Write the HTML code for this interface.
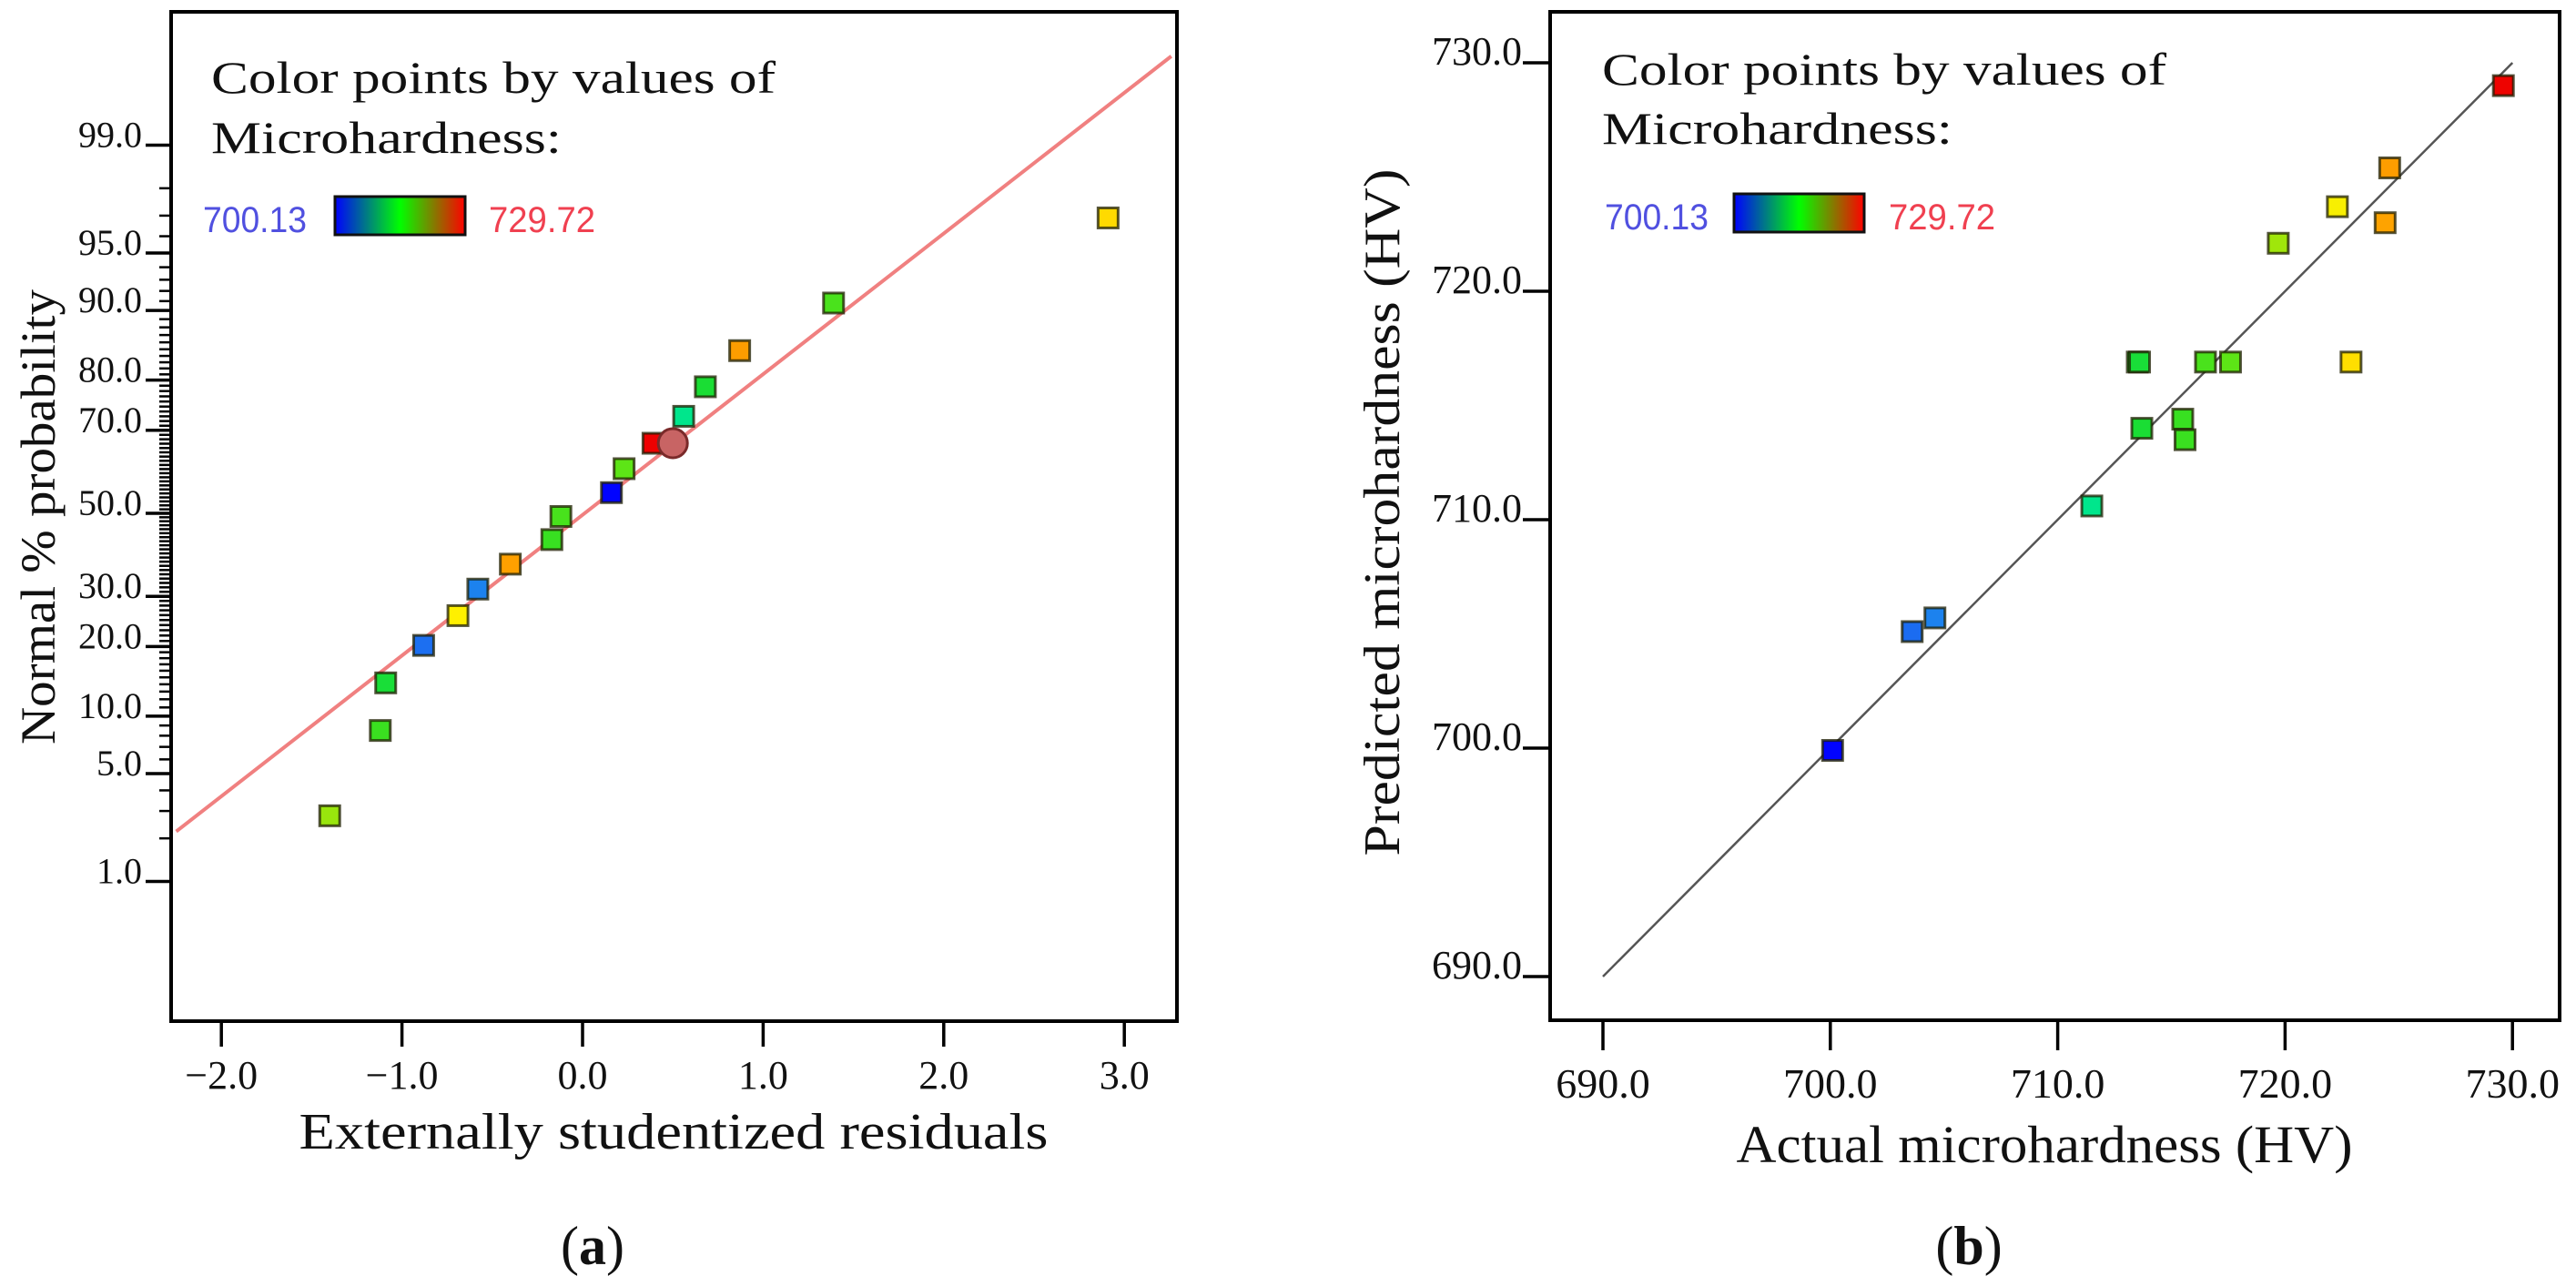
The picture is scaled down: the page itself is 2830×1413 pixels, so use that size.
<!DOCTYPE html>
<html><head><meta charset="utf-8"><style>
html,body{margin:0;padding:0;background:#fff;}
svg{display:block;}
text{font-family:"Liberation Serif",serif;fill:#111;}
.sans{font-family:"Liberation Sans",sans-serif;}
</style></head><body>
<svg id="chart" width="2830" height="1413" viewBox="0 0 2830 1413" xmlns="http://www.w3.org/2000/svg">
<defs>
<linearGradient id="cbar" x1="0" x2="1" y1="0" y2="0">
<stop offset="0" stop-color="#0000ff"/><stop offset="0.5" stop-color="#00ff00"/><stop offset="1" stop-color="#ff0000"/>
</linearGradient>
</defs>
<g id="left">
  <rect x="188" y="13" width="1105" height="1109" fill="none" stroke="#000" stroke-width="4"/>
  <g id="lyt"></g>
  <g id="lxt"></g>
  <g id="lline"></g>
  <g id="lpts"></g>
  <g>
    <text x="232" y="102" font-size="50" textLength="620" lengthAdjust="spacingAndGlyphs">Color points by values of</text>
    <text x="232" y="168" font-size="50" textLength="385" lengthAdjust="spacingAndGlyphs">Microhardness:</text>
    <text class="sans" x="223" y="255" font-size="40" fill="#5050e0" style="fill:#5050e0" textLength="114" lengthAdjust="spacingAndGlyphs">700.13</text>
    <rect x="368" y="216" width="143" height="42" fill="url(#cbar)" stroke="#111" stroke-width="3"/>
    <text class="sans" x="537" y="255" font-size="40" style="fill:#f04050" textLength="117" lengthAdjust="spacingAndGlyphs">729.72</text>
  </g>
  <text x="740" y="1262" font-size="56" text-anchor="middle" textLength="823" lengthAdjust="spacingAndGlyphs">Externally studentized residuals</text>
  <text transform="translate(60,568) rotate(-90)" font-size="54" text-anchor="middle" textLength="500" lengthAdjust="spacingAndGlyphs">Normal % probability</text>
  <text x="651" y="1389" font-size="60" text-anchor="middle">(<tspan font-weight="bold">a</tspan>)</text>
</g>
<g id="right">
  <rect x="1703" y="13" width="1109" height="1108" fill="none" stroke="#000" stroke-width="4"/>
  <g id="ryt"></g>
  <g id="rxt"></g>
  <g id="rline"></g>
  <g id="rpts"></g>
  <g>
    <text x="1760" y="93" font-size="50" textLength="620" lengthAdjust="spacingAndGlyphs">Color points by values of</text>
    <text x="1760" y="158" font-size="50" textLength="385" lengthAdjust="spacingAndGlyphs">Microhardness:</text>
    <text class="sans" x="1763" y="252" font-size="40" style="fill:#5050e0" textLength="114" lengthAdjust="spacingAndGlyphs">700.13</text>
    <rect x="1905" y="213" width="143" height="42" fill="url(#cbar)" stroke="#111" stroke-width="3"/>
    <text class="sans" x="2075" y="252" font-size="40" style="fill:#f04050" textLength="117" lengthAdjust="spacingAndGlyphs">729.72</text>
  </g>
  <text x="2246" y="1277" font-size="58" text-anchor="middle" textLength="677" lengthAdjust="spacingAndGlyphs">Actual microhardness (HV)</text>
  <text transform="translate(1537,563) rotate(-90)" font-size="56" text-anchor="middle" textLength="755" lengthAdjust="spacingAndGlyphs">Predicted microhardness (HV)</text>
  <text x="2163" y="1389" font-size="60" text-anchor="middle">(<tspan font-weight="bold">b</tspan>)</text>
</g>
</svg>
<script>
// ---- Left chart data ----
const leftResiduals = [-1.40,-1.12,-1.09,-0.88,-0.69,-0.58,-0.40,-0.17,-0.12,0.16,0.23,0.39,0.56,0.68,0.87,1.39,2.91];
const leftProbability = [2.8,8.5,14.2,20.2,25.9,31.6,37.4,43.4,49.2,55.2,61.1,67.1,73.0,78.8,84.8,90.8,96.9];
const leftHardness = [719.5,715.6,713.6,703.7,722.5,704.6,724.5,715.5,716.4,700.1,717.6,729.7,711.5,713.7,724.6,716.5,723.0];
const leftXTicks = [-2,-1,0,1,2,3];
const leftXTickLabels = ["\u22122.0","\u22121.0","0.0","1.0","2.0","3.0"];
const leftYTicks = [1,5,10,20,30,50,70,80,90,95,99];
const leftYTickLabels = ["1.0","5.0","10.0","20.0","30.0","50.0","70.0","80.0","90.0","95.0","99.0"];
const highlightResidual = [0.50];
const highlightProbability = [67.1];
const fitLineResidual = [-2.25,3.26];
// ---- Right chart data ----
const rightActual = [700.1,703.6,704.6,711.5,713.5,713.6,713.7,715.5,715.6,716.5,717.6,719.7,722.3,722.9,724.4,724.6,729.6];
const rightPredicted = [699.9,705.1,705.7,710.6,716.9,716.9,714.0,714.4,713.5,716.9,716.9,722.1,723.7,716.9,723.0,725.4,729.0];
const rightXTicks = [690,700,710,720,730];
const rightXTickLabels = ["690.0","700.0","710.0","720.0","730.0"];
const rightYTicks = [690,700,710,720,730];
const rightYTickLabels = ["690.0","700.0","710.0","720.0","730.0"];
const diagRange = [690,730];

const NS="http://www.w3.org/2000/svg";
function mk(tag,attrs,parent){const e=document.createElementNS(NS,tag);for(const k in attrs)e.setAttribute(k,attrs[k]);parent.appendChild(e);return e;}
// inverse normal CDF (Acklam)
function probit(p){
 const a=[-39.6968302866538,220.946098424521,-275.928510446969,138.357751867269,-30.6647980661472,2.50662827745924];
 const b=[-54.4760987982241,161.585836858041,-155.698979859887,66.8013118877197,-13.2806815528857];
 const c=[-0.00778489400243029,-0.322396458041136,-2.40075827716184,-2.54973253934373,4.37466414146497,2.93816398269878];
 const d=[0.00778469570904146,0.32246712907004,2.445134137143,3.75440866190742];
 const pl=0.02425;let q,r;
 if(p<pl){q=Math.sqrt(-2*Math.log(p));return (((((c[0]*q+c[1])*q+c[2])*q+c[3])*q+c[4])*q+c[5])/((((d[0]*q+d[1])*q+d[2])*q+d[3])*q+1);}
 if(p>1-pl){q=Math.sqrt(-2*Math.log(1-p));return -(((((c[0]*q+c[1])*q+c[2])*q+c[3])*q+c[4])*q+c[5])/((((d[0]*q+d[1])*q+d[2])*q+d[3])*q+1);}
 q=p-0.5;r=q*q;return (((((a[0]*r+a[1])*r+a[2])*r+a[3])*r+a[4])*r+a[5])*q/(((((b[0]*r+b[1])*r+b[2])*r+b[3])*r+b[4])*r+1);
}
function lx(v){return 640+v*198.4;}
function lyz(z){return 564-z*173.9;}
function ly(p){return lyz(probit(p/100));}
function rx(v){return 1761+(v-690)*24.98;}
function ry(v){return 1073-(v-690)*25.1;}
const cstops=[[700,[0,0,255]],[704,[30,120,240]],[707,[20,170,230]],[711.5,[0,230,140]],[714,[30,220,40]],[718,[100,230,20]],[720,[170,230,10]],[722.5,[255,240,0]],[724,[255,175,0]],[729.7,[238,0,0]]];
function colorFor(v){
 if(v<=cstops[0][0])return "rgb("+cstops[0][1]+")";
 for(let i=1;i<cstops.length;i++){if(v<=cstops[i][0]){const t=(v-cstops[i-1][0])/(cstops[i][0]-cstops[i-1][0]);const a=cstops[i-1][1],b=cstops[i][1];return "rgb("+a.map((x,j)=>Math.round(x+(b[j]-x)*t)).join(",")+")";}}
 return "rgb("+cstops[cstops.length-1][1]+")";
}
function square(parent,cx,cy,fill,name){
 const s=mk('rect',{x:cx-11,y:cy-11,width:22,height:22,fill:fill,stroke:"rgba(30,30,0,0.75)","stroke-width":3},parent);
 
 
 return s;
}
// left axes
const lyt=document.getElementById('lyt');
for(let p=1;p<=99;p++){
 const y=ly(p);
 const t=mk('line',{x1:175,x2:188,y1:y,y2:y,stroke:"#000","stroke-width":2.5},lyt);
 
 
}
leftYTicks.forEach((p,i)=>{
 const y=ly(p);
 const t=mk('line',{x1:160,x2:188,y1:y,y2:y,stroke:"#000","stroke-width":3.5},lyt);
 
 
 const l=mk('text',{x:156,y:y+2,"font-size":40,"text-anchor":"end"},lyt);l.textContent=leftYTickLabels[i];
 
 
});
const lxt=document.getElementById('lxt');
leftXTicks.forEach((v,i)=>{
 const x=lx(v);
 const t=mk('line',{x1:x,x2:x,y1:1122,y2:1150,stroke:"#000","stroke-width":3.5},lxt);
 
 
 const l=mk('text',{x:x,y:1196,"font-size":44,"text-anchor":"middle"},lxt);l.textContent=leftXTickLabels[i];
 
 
});
// fit line: z = slope*r + icpt
const slope=0.889, icpt=-0.01;
const ll=mk('line',{x1:lx(fitLineResidual[0]),y1:lyz(slope*fitLineResidual[0]+icpt),x2:lx(fitLineResidual[1]),y2:lyz(slope*fitLineResidual[1]+icpt),stroke:"#f08080","stroke-width":4},document.getElementById('lline'));


const lpts=document.getElementById('lpts');
leftResiduals.forEach((r,i)=>{square(lpts,lx(r),ly(leftProbability[i]),colorFor(leftHardness[i]),'left-point');});
highlightResidual.forEach((r,i)=>{
 const c=mk('circle',{cx:lx(r),cy:ly(highlightProbability[i]),r:16,fill:"#c86464",stroke:"#7a2a2a","stroke-width":3},lpts);
 
 
});
// right axes
const ryt=document.getElementById('ryt');
rightYTicks.forEach((v,i)=>{
 const y=ry(v);
 const t=mk('line',{x1:1673,x2:1703,y1:y,y2:y,stroke:"#000","stroke-width":3.5},ryt);
 
 
 const l=mk('text',{x:1672,y:y+2,"font-size":44,"text-anchor":"end"},ryt);l.textContent=rightYTickLabels[i];
 
 
});
const rxt=document.getElementById('rxt');
rightXTicks.forEach((v,i)=>{
 const x=rx(v);
 const t=mk('line',{x1:x,x2:x,y1:1121,y2:1154,stroke:"#000","stroke-width":3.5},rxt);
 
 
 const l=mk('text',{x:x,y:1206,"font-size":46,"text-anchor":"middle"},rxt);l.textContent=rightXTickLabels[i];
 
 
});
const rl=mk('line',{x1:rx(diagRange[0]),y1:ry(diagRange[0]),x2:rx(diagRange[1]),y2:ry(diagRange[1]),stroke:"#555","stroke-width":2.5},document.getElementById('rline'));


const rpts=document.getElementById('rpts');
rightActual.forEach((a,i)=>{square(rpts,rx(a),ry(rightPredicted[i]),colorFor(a),'right-point');});
</script>
</body></html>
